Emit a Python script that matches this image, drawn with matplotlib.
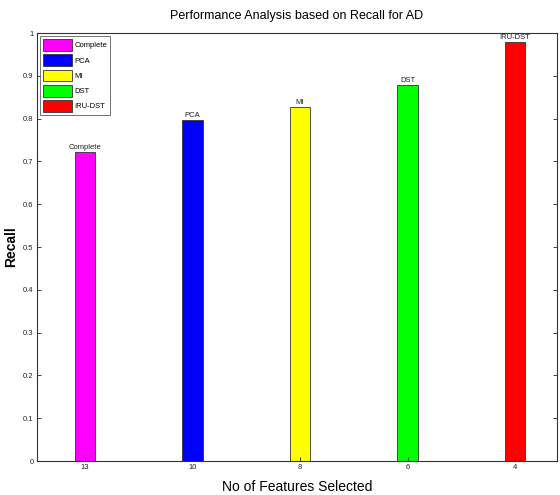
import matplotlib.pyplot as plt

plt.rcParams['font.family'] = ['Liberation Sans', 'DejaVu Sans']

methods = ["Complete", "PCA", "MI", "DST", "IRU-DST"]
features = ["13", "10", "8", "6", "4"]
recall = [0.722, 0.796, 0.827, 0.878, 0.978]
colors = ["#ff00ff", "#0000ff", "#ffff00", "#00ff00", "#ff0000"]

fig = plt.figure(figsize=(5.6, 4.95), dpi=100)
ax = fig.add_axes([37 / 560, 34 / 495, 520 / 560, 428 / 495])

pos = list(range(1, len(methods) + 1))
for p, v, c, m in zip(pos, recall, colors, methods):
    ax.bar(p, v, width=0.19, color=c, edgecolor="#333333", linewidth=0.6, label=m)
    ax.text(p, v + 0.003, m, ha="center", va="bottom", fontsize=5.5, color="#222222")

ax.set_xlim(0.553, 5.39)
ax.set_ylim(0, 1)
ax.set_xticks(pos)
ax.set_xticklabels(features)
ax.set_yticks([i / 10 for i in range(11)])
ax.set_yticklabels(["0"] + [f"{i / 10:g}" for i in range(1, 10)] + ["1"])
ax.tick_params(axis="both", direction="in", labelsize=5.5, length=3, width=0.6,
               colors="#222222", pad=2.5)
ax.tick_params(axis="y", right=True)
for s in ax.spines.values():
    s.set_linewidth(0.8)
    s.set_color("#333333")

ax.set_title("Performance Analysis based on Recall for AD", fontsize=9, pad=10)
ax.set_xlabel("No of Features Selected", fontsize=10)
ax.set_ylabel("Recall", fontsize=10, fontweight="bold")
ax.xaxis.set_label_coords(0.5, -0.045)
ax.yaxis.set_label_coords(-0.036, 0.5)

leg = ax.legend(loc="upper left", fontsize=5.5, frameon=True, fancybox=False,
                edgecolor="#333333", handlelength=3.8, handleheight=2.0,
                borderaxespad=0.4, labelspacing=0.45, handletextpad=0.3,
                borderpad=0.4)
leg.get_frame().set_linewidth(0.6)

fig.savefig("out.png", dpi=100)
